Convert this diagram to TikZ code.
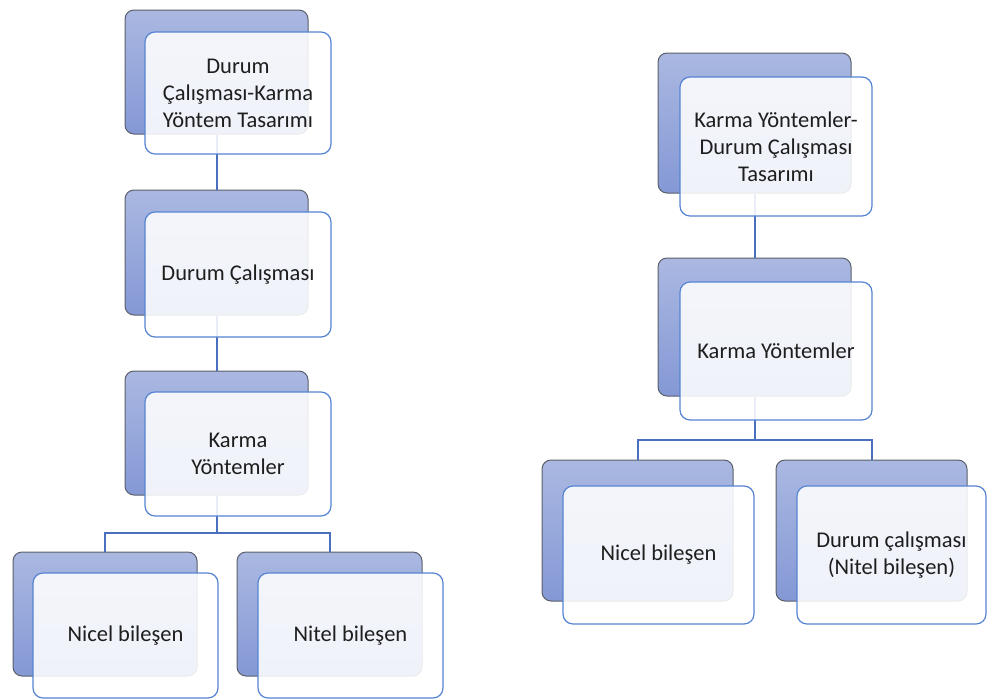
\documentclass[tikz,border=0pt]{standalone}
\usepackage{fontspec}
\setmainfont{Carlito}
\begin{document}
\definecolor{backtop}{HTML}{AAB8E1}
\definecolor{backbot}{HTML}{8498D5}
\definecolor{backline}{HTML}{5A5F6A}
\definecolor{frontline}{HTML}{5584D2}
\definecolor{linkblue}{HTML}{4A6FBE}
\definecolor{txt}{HTML}{1E1E1E}
\begin{tikzpicture}[x=1pt,y=-1pt,
  backbox/.style={draw=backline, line width=1pt, rounded corners=9pt,
    top color=backtop, bottom color=backbot, inner sep=0pt},
  frontbox/.style={draw=frontline, line width=1.2pt, rounded corners=10pt,
    fill=white, fill opacity=0.88, text opacity=1, text=txt, inner sep=0pt,
    align=center, font=\fontsize{22.5}{27}\selectfont},
  link/.style={draw=linkblue, line width=2pt}]
\useasboundingbox (0,0) rectangle (987,699);

% left tree: back panels
\node[backbox, minimum width=183pt, minimum height=124pt] (b1) at (216.5,72) {};
\node[backbox, minimum width=183pt, minimum height=125pt] (b2) at (216.5,252.5) {};
\node[backbox, minimum width=183pt, minimum height=124pt] (b3) at (216.5,433) {};
\node[backbox, minimum width=184pt, minimum height=124pt] (lb1) at (105,614) {};
\node[backbox, minimum width=185pt, minimum height=124pt] (lb2) at (329.5,614) {};

% right tree: back panels
\node[backbox, minimum width=193pt, minimum height=140pt] (rb1) at (754.5,123) {};
\node[backbox, minimum width=193pt, minimum height=138pt] (rb2) at (754.5,327) {};
\node[backbox, minimum width=191pt, minimum height=141pt] (rlb1) at (637.5,530.5) {};
\node[backbox, minimum width=191pt, minimum height=141pt] (rlb2) at (871.5,530.5) {};

% connectors
\coordinate (lj) at (216.5,533);
\coordinate (rj) at (754.5,440);
\draw[link] (b1.south) -- (b2.north);
\draw[link] (b2.south) -- (b3.north);
\draw[link] (b3.south) -- (lj) -| (lb1.north);
\draw[link] (lj) -| (lb2.north);
\draw[link] (rb1.south) -- (rb2.north);
\draw[link] (rb2.south) -- (rj) -| (rlb1.north);
\draw[link] (rj) -| (rlb2.north);

% left tree: front panels
\node[frontbox, minimum width=186pt, minimum height=122pt] (f1) at (238,93)
  {Durum\\Çalışması-Karma\\Yöntem Tasarımı};
\node[frontbox, minimum width=186pt, minimum height=125pt] (f2) at (238,274.5)
  {Durum Çalışması};
\node[frontbox, minimum width=186pt, minimum height=124pt] (f3) at (238,454)
  {Karma\\Yöntemler};
\node[frontbox, minimum width=185pt, minimum height=125pt] (lf1) at (125.5,635.5)
  {Nicel bileşen};
\node[frontbox, minimum width=185pt, minimum height=125pt] (lf2) at (350.5,635.5)
  {Nitel bileşen};

% right tree: front panels
\node[frontbox, minimum width=192pt, minimum height=139pt] (rf1) at (776,146.5)
  {Karma Yöntemler-\\Durum Çalışması\\Tasarımı};
\node[frontbox, minimum width=192pt, minimum height=138pt] (rf2) at (776,351)
  {Karma Yöntemler};
\node[frontbox, minimum width=191pt, minimum height=138pt] (rlf1) at (658.5,555)
  {Nicel bileşen};
\node[frontbox, minimum width=189pt, minimum height=138pt] (rlf2) at (891.5,555)
  {Durum çalışması\\(Nitel bileşen)};
\end{tikzpicture}
\end{document}
